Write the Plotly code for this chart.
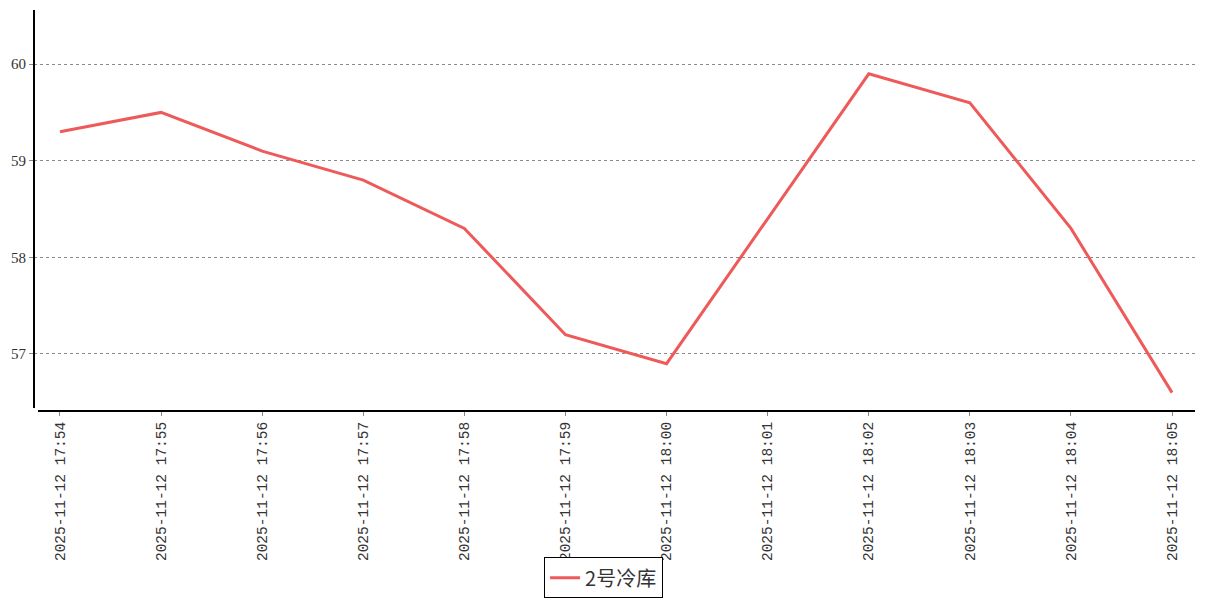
import plotly.graph_objects as go

times = ["2025-11-12 17:54", "2025-11-12 17:55", "2025-11-12 17:56", "2025-11-12 17:57",
         "2025-11-12 17:58", "2025-11-12 17:59", "2025-11-12 18:00", "2025-11-12 18:01",
         "2025-11-12 18:02", "2025-11-12 18:03", "2025-11-12 18:04", "2025-11-12 18:05"]
values = [59.3, 59.5, 59.1, 58.8, 58.3, 57.2, 56.9, 58.4, 59.9, 59.6, 58.3, 56.6]
series_name = "2号冷库"
y_ticks = [57, 58, 59, 60]

# the page body adds an 8px margin, so the figure is sized to fit inside the window
W, H = 1199, 592
L, R, T, B = 26, 12, 2, 189
plot_w = W - L - R
plot_h = H - T - B

fig = go.Figure()
fig.add_trace(go.Scatter(
    x=times, y=values, mode="lines", name=series_name,
    line=dict(color="#EE5A5A", width=3),
))

fig.update_layout(
    width=W, height=H,
    margin=dict(l=L, r=R, t=T, b=B, autoexpand=False),
    plot_bgcolor="white", paper_bgcolor="white",
    font=dict(family="Liberation Mono, DejaVu Sans Mono, monospace", color="#333333", size=14),
    showlegend=True,
    legend=dict(
        xref="container", yref="container", x=0.4967, y=0.003, xanchor="center", yanchor="bottom",
        orientation="h", bordercolor="black", borderwidth=1,
        font=dict(size=20, family="Noto Sans CJK SC, Liberation Serif, serif", color="#333333"),
        itemwidth=30, tracegroupgap=0,
    ),
    xaxis=dict(
        type="category", range=[-0.257, 11.227], showgrid=False, zeroline=False,
        showline=False, ticks="outside", ticklen=4, tickcolor="#888888",
        tickangle=-90, tickfont=dict(size=14.5), fixedrange=True, automargin=False,
    ),
    yaxis=dict(
        range=[56.41, 60.56], tickvals=y_ticks, showgrid=True,
        gridcolor="#8a8a8a", griddash="dot", gridwidth=1, zeroline=False,
        showline=False, ticks="outside", ticklen=4, tickcolor="#888888",
        tickfont=dict(size=15, family="Liberation Serif, serif"), automargin=False,
    ),
)

# separate axis lines (with a small gap at the corner)
fig.add_shape(type="line", xref="paper", yref="paper",
              x0=0, x1=0, y0=3 / plot_h, y1=1,
              line=dict(color="black", width=2))
fig.add_shape(type="line", xref="paper", yref="paper",
              x0=4 / plot_w, x1=1, y0=0, y1=0,
              line=dict(color="black", width=2))

fig.write_html("out.html")
